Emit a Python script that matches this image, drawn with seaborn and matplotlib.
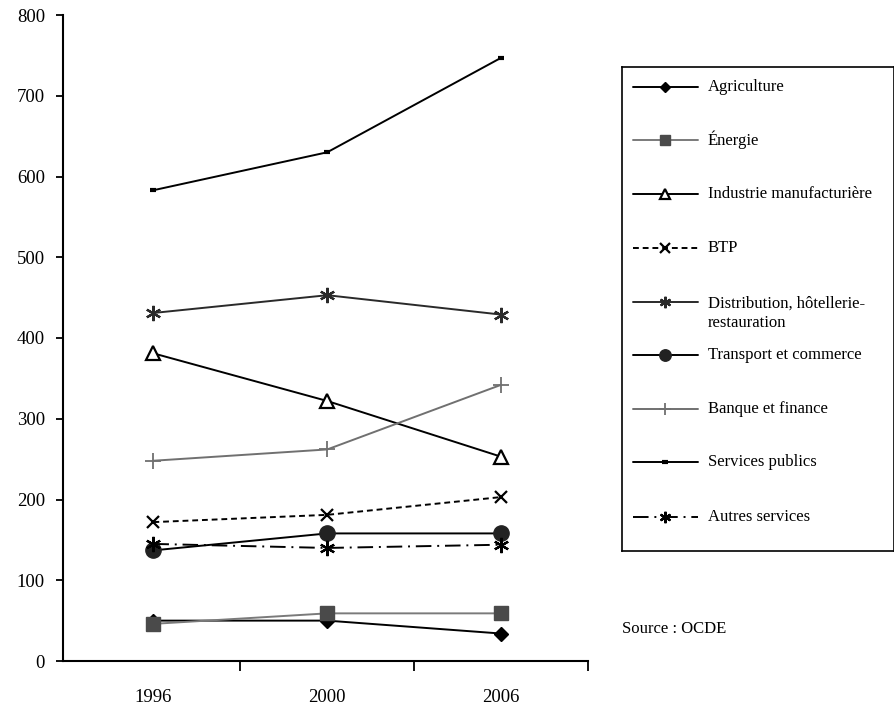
import numpy as np
import pandas as pd
import matplotlib
matplotlib.use("Agg")
import matplotlib.pyplot as plt
import seaborn as sns

sns.set_theme(style="white")
plt.rcParams['font.family'] = ['Liberation Serif', 'DejaVu Serif']

years = ["1996", "2000", "2006"]
agriculture = [50, 50, 34]
energie = [46, 59, 59]
industrie = [381, 322, 253]
btp = [172, 181, 203]
distribution = [431, 453, 429]
transport = [137, 158, 158]
banque = [248, 262, 342]
services_publics = [583, 630, 747]
autres_services = [145, 140, 144]

labels = ["Agriculture", "Énergie", "Industrie manufacturière", "BTP",
          "Distribution, hôtellerie-\nrestauration", "Transport et commerce",
          "Banque et finance", "Services publics", "Autres services"]
series = [agriculture, energie, industrie, btp, distribution, transport,
          banque, services_publics, autres_services]

ast = (6, 2, 0)
styles = [
    dict(color="black", ls="-", marker="D", ms=7, mfc="black", mec="black", mew=1),
    dict(color="#7a7a7a", ls="-", marker="s", ms=10, mfc="#4a4a4a", mec="#4a4a4a", mew=1),
    dict(color="black", ls="-", marker="^", ms=10, mfc="white", mec="black", mew=1.6),
    dict(color="black", ls=(0, (3, 2)), marker="x", ms=9, mfc="black", mec="black", mew=1.6),
    dict(color="#2a2a2a", ls="-", marker=ast, ms=11, mfc="#2a2a2a", mec="#2a2a2a", mew=1.6),
    dict(color="black", ls="-", marker="o", ms=11, mfc="#222222", mec="#222222", mew=1),
    dict(color="#707070", ls="-", marker="+", ms=11, mfc="#707070", mec="#707070", mew=1.3),
    dict(color="black", ls="-", marker="_", ms=5, mfc="black", mec="black", mew=3),
    dict(color="black", ls=(0, (8, 3, 1, 3)), marker=ast, ms=11, mfc="black", mec="black", mew=1.6),
]

W, H = 895, 707
fig = plt.figure(figsize=(W / 100, H / 100), dpi=100)
ax = fig.add_axes([63 / W, 1 - 661 / H, 525 / W, 646 / H])

pos = np.arange(len(years)) + 0.5
for lab, vals, st in zip(labels, series, styles):
    df = pd.DataFrame({"x": pos, "y": vals})
    sns.lineplot(data=df, x="x", y="y", ax=ax, color=st["color"], linestyle=st["ls"],
                 linewidth=1.4, marker=st["marker"], markersize=st["ms"],
                 markerfacecolor=st["mfc"], markeredgecolor=st["mec"],
                 markeredgewidth=st["mew"], legend=False, zorder=3)

ax.set_xlim(-0.02, 3)
ax.set_ylim(0, 800)
ax.set_xlabel("")
ax.set_ylabel("")
ax.set_yticks(np.arange(0, 801, 100))
ax.set_xticks([1, 2, 3])
ax.set_xticklabels([])
ax.set_xticks(pos, minor=True)
ax.set_xticklabels(years, minor=True)
ax.tick_params(axis="x", which="major", direction="out", length=7, width=1.3,
               color="black", bottom=True)
ax.tick_params(axis="x", which="minor", length=0, labelsize=13.5, pad=20,
               labelcolor="black")
ax.tick_params(axis="y", direction="out", length=5, width=1.3, color="black",
               left=True, labelsize=13.5, pad=8, labelcolor="black")
for side in ["top", "right"]:
    ax.spines[side].set_visible(False)
for side in ["left", "bottom"]:
    ax.spines[side].set_color("black")
    ax.spines[side].set_linewidth(1.5)
ax.grid(False)

# legend box drawn in its own axes (pixel-like coordinates)
lx0, ly0, lx1, ly1 = 622, 67, 894, 551
lax = fig.add_axes([lx0 / W, 1 - ly1 / H, (lx1 - lx0) / W, (ly1 - ly0) / H])
lax.set_xlim(0, lx1 - lx0)
lax.set_ylim(ly1 - ly0, 0)
lax.set_xticks([])
lax.set_yticks([])
for s in lax.spines.values():
    s.set_color("black")
    s.set_linewidth(1.2)
entry_y = [87, 140, 194, 248, 302, 355, 409, 462, 517]
for lab, st, yy in zip(labels, styles, entry_y):
    y = yy - ly0
    lax.plot([11, 76], [y, y], color=st["color"], ls=st["ls"], lw=1.4)
    lax.plot([43], [y], ls="none", marker=st["marker"], ms=st["ms"] * 0.75,
             mfc=st["mfc"], mec=st["mec"], mew=st["mew"])
    ty = y + 11 if "\n" in lab else y
    lax.text(86, ty, lab, va="center", ha="left", fontsize=12, color="black",
             linespacing=1.3)

fig.text(622 / W, 1 - 629 / H, "Source : OCDE", fontsize=12, va="center",
         ha="left", color="black")

fig.savefig("out.png", dpi=100, facecolor="white")
